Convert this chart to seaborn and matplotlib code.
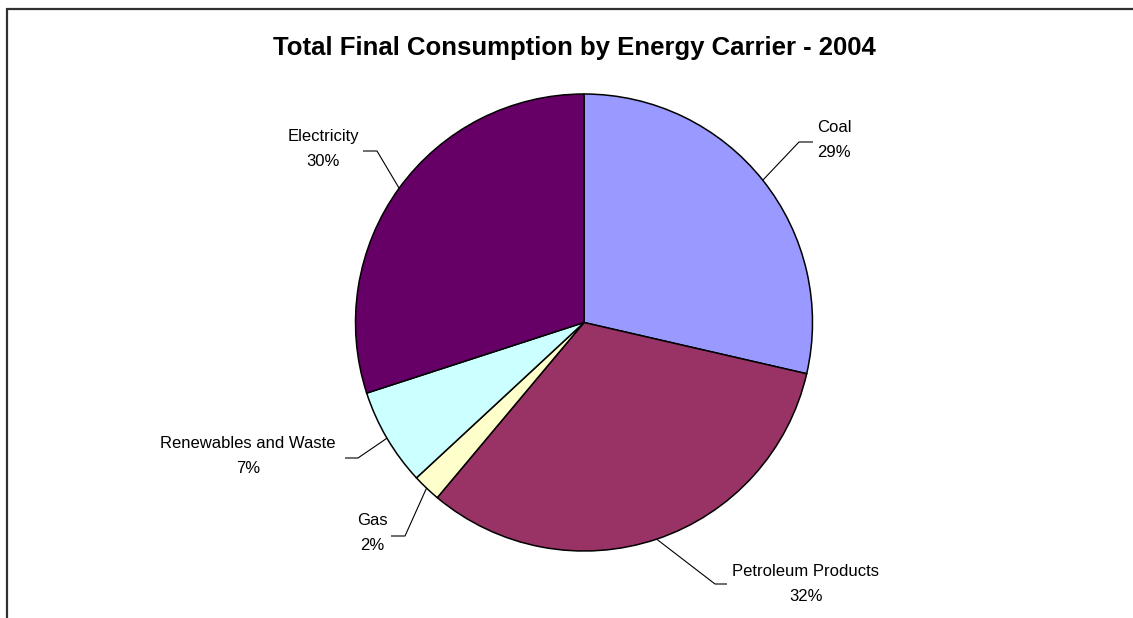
import matplotlib
matplotlib.use("Agg")
import matplotlib.pyplot as plt
import seaborn as sns
import numpy as np
from matplotlib.lines import Line2D

carriers = ["Coal", "Petroleum Products", "Gas", "Renewables and Waste", "Electricity"]
shares = [28.6, 32.5, 2.0, 6.9, 30.0]
colors = ["#9999FF", "#993366", "#FFFFCC", "#CCFFFF", "#660066"]
title = "Total Final Consumption by Energy Carrier - 2004"

# label layout in pixels: (text centre, leader elbow, leader end)
label_pos = {
    "Coal": ((834, 140), (799, 142), (813, 142)),
    "Petroleum Products": ((806, 584), (715, 584), (727, 584)),
    "Gas": ((372, 533), (405, 536), (391, 536)),
    "Renewables and Waste": ((248, 456), (358, 458), (345, 458)),
    "Electricity": ((323, 149), (377, 151), (363, 151)),
}

W, H = 1133, 618
CX, CY, R = 584, 322.5, 228.5


def px(x, y):
    return (x - CX) / R, (CY - y) / R


def main():
    sns.set_theme(style="white")
    plt.rcParams["font.family"] = ["Liberation Sans", "DejaVu Sans"]

    fig = plt.figure(figsize=(W / 100, H / 100), dpi=100)
    ax = fig.add_axes([0, 0, 1, 1])
    ax.axis("off")

    wedges, _ = ax.pie(shares, colors=colors, startangle=90, counterclock=False,
                       radius=1, wedgeprops=dict(edgecolor="black", linewidth=1.1))
    ax.set_xlim(-CX / R, (W - CX) / R)
    ax.set_ylim((CY - H) / R, CY / R)
    ax.set_aspect("equal")

    total = sum(shares)
    for name, val, w in zip(carriers, shares, wedges):
        (tx, ty), (ex, ey), (hx, hy) = label_pos[name]
        mid = np.deg2rad((w.theta1 + w.theta2) / 2)
        sx, sy = np.cos(mid), np.sin(mid)
        e = px(ex, ey)
        h = px(hx, hy)
        ax.plot([sx, e[0], h[0]], [sy, e[1], h[1]], color="black", lw=0.8,
                solid_capstyle="butt")
        t = px(tx, ty)
        pct = round(val / total * 100)
        ax.text(t[0], t[1], f"{name}\n{pct}%", ha="center",
                va="center", fontsize=12, linespacing=1.9, color="black")

    fig.text(574 / W, 1 - 48 / H, title, ha="center", va="center",
             fontsize=18.5, fontweight="bold", color="black")

    # chart frame (only top and left edges visible)
    fig.add_artist(Line2D([7 / W, 1], [1 - 8.5 / H, 1 - 8.5 / H], color="#303030", lw=1.6))
    fig.add_artist(Line2D([7 / W, 7 / W], [0, 1 - 8.5 / H], color="#303030", lw=1.6))

    fig.savefig("out.png", dpi=100)


if __name__ == "__main__":
    main()
